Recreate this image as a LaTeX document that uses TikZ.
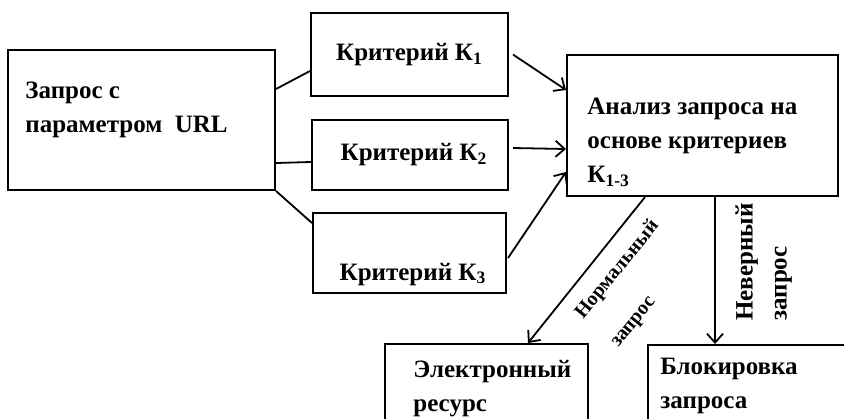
\documentclass[tikz,border=0pt]{standalone}
\usepackage{fontspec}
\setmainfont{Liberation Serif}
\usetikzlibrary{arrows.meta, positioning}

\begin{document}
\begin{tikzpicture}[
  x=0.5pt, y=-0.5pt,
  font=\bfseries\fontsize{12.5}{17}\selectfont,
  every node/.style={align=left},
  box/.style={draw, line width=1pt, inner sep=0pt},
  txt/.style={inner sep=0pt, anchor=north west},
  lnk/.style={line width=0.9pt},
  arr/.style={lnk, -{Straight Barb[length=4.5pt, width=8pt]}},
]

\useasboundingbox (0,0) rectangle (844,418);

% boxes
\node[box, minimum width=133.5pt, minimum height=70pt] (query) at (141.5,120) {};
\node[txt] (query-t) at (25,82) {Запрос с\\параметром\ \ URL};

\node[box, minimum width=98.5pt, minimum height=41.5pt] (k1) at (409.5,54.5)
  {Критерий К\textsubscript{1}};
\node[box, minimum width=98pt, minimum height=35pt] (k2) at (410,155)
  {\hspace{4pt}Критерий К\textsubscript{2}};
\node[box, minimum width=96.5pt, minimum height=40pt] (k3) at (409.5,253) {};
\node[txt, anchor=base] (k3-t) at (413,280) {Критерий К\textsubscript{3}};

\node[box, minimum width=135.5pt, minimum height=70.5pt] (anal) at (702.5,125.5) {};
\node[txt] (anal-t) at (587,98) {Анализ запроса на\\основе критериев\\К\textsubscript{1-3}};

\node[box, minimum width=101.5pt, minimum height=48pt] (eres) at (486.5,392) {};
\node[txt] (eres-t) at (413,360) {Электронный\\ресурс};

\node[box, minimum width=111pt, minimum height=47.5pt] (block) at (759,392.5) {};
\node[txt] (block-t) at (660,358) {Блокировка\\запроса};

% links
\draw[lnk] ([shift={(0,-31)}]query.east) -- ([shift={(0,16.5)}]k1.west);
\draw[lnk] ([shift={(0,43)}]query.east) -- ([shift={(0,7)}]k2.west);
\draw[lnk] (query.south east) -- ([shift={(0,-30)}]k3.west);

\draw[arr] ([shift={(4,0)}]k1.east) -- ([shift={(0,-35.5)}]anal.west);
\draw[arr] ([shift={(4,-7)}]k2.east) -- ([shift={(0,23.5)}]anal.west);
\draw[arr] ([shift={(1,5)}]k3.east) -- ([shift={(0,46.5)}]anal.west);

\draw[arr] ([shift={(-57.5,0)}]anal.south) -- ([shift={(41.5,0)}]eres.north);
\draw[arr] ([shift={(12.5,0)}]anal.south) -- ([shift={(-44,0)}]block.north);

\node[rotate=51, inner sep=0pt, font=\bfseries\fontsize{10}{12}\selectfont] (norm-l) at (635,284)
  {Нормальный\\[10.5pt]запрос};
\node[txt, rotate=90, font=\bfseries\fontsize{12.5}{17}\selectfont] (wrong-l) at (735,321)
  {Неверный\\запрос};

\end{tikzpicture}
\end{document}
